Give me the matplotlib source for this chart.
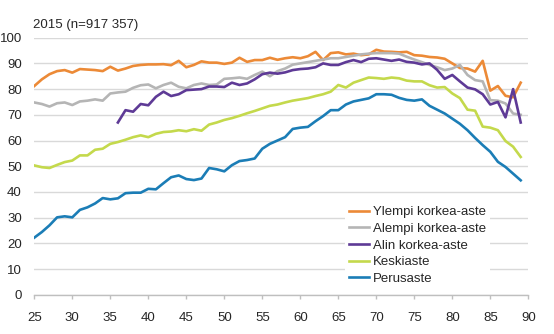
import matplotlib
matplotlib.use("Agg")
import matplotlib.pyplot as plt
import numpy as np

plt.rcParams['font.family'] = ['Liberation Sans', 'DejaVu Sans']

ages = list(range(25, 90))

ylempi = [81.2, 83.8, 85.8, 87.0, 87.4, 86.4, 87.8, 87.6, 87.4, 87.0,
          88.7, 87.2, 88.0, 89.0, 89.4, 89.6, 89.6, 89.7, 89.3, 91.0,
          88.5, 89.4, 90.8, 90.3, 90.3, 89.8, 90.3, 92.2, 90.6, 91.3,
          91.3, 92.2, 91.4, 92.0, 92.4, 92.0, 92.8, 94.5, 91.3, 94.0,
          94.3, 93.5, 93.8, 93.2, 93.5, 95.3, 94.6, 94.5, 94.3, 94.5,
          93.2, 93.0, 92.5, 92.3, 91.8, 90.0, 88.2, 88.0, 86.8, 91.0,
          79.4, 81.2, 77.4, 76.8, 82.5]

alempi = [74.8, 74.2, 73.2, 74.5, 74.8, 73.8, 75.2, 75.5, 76.0, 75.5,
          78.3, 78.7, 79.0, 80.5, 81.5, 81.8, 80.3, 81.6, 82.5, 80.9,
          80.3, 81.6, 82.2, 81.6, 81.8, 84.0, 84.2, 84.5, 84.0, 85.5,
          86.8, 85.0, 87.0, 88.0, 89.5, 90.0, 90.5, 91.0, 91.5, 92.0,
          92.0, 92.5, 93.0, 93.5, 93.8, 94.0, 94.0, 94.0, 93.8, 92.6,
          91.5, 90.5, 89.4, 88.5, 87.4, 88.0, 89.4, 85.5, 83.5, 83.0,
          75.7, 75.5, 74.4, 70.5, 70.0]

alin = [np.nan] * 11 + [
          67.0, 71.8, 71.2, 74.2, 73.7, 77.0, 79.0, 77.3, 78.0,
          79.6, 79.8, 80.0, 81.0, 81.0, 80.8, 82.5, 81.6, 82.2, 83.8,
          85.8, 86.4, 86.0, 86.5, 87.4, 87.8, 88.0, 88.5, 90.0, 89.4,
          89.4, 90.5, 91.3, 90.5, 91.8, 92.0, 91.5, 91.0, 91.5, 90.6,
          90.3, 89.6, 90.0, 87.5, 84.0, 85.5, 83.0, 80.6, 79.9, 78.0,
          74.0, 75.0, 69.0, 80.0, 67.0]

keski = [50.3, 49.6, 49.3, 50.5, 51.6, 52.2, 54.2, 54.2, 56.4, 56.8,
         58.7, 59.4, 60.3, 61.3, 62.0, 61.3, 62.6, 63.3, 63.5, 64.0,
         63.6, 64.4, 63.8, 66.2, 67.0, 68.0, 68.7, 69.6, 70.6, 71.5,
         72.5, 73.5, 74.0, 74.8, 75.5, 76.0, 76.5, 77.3, 78.0, 79.0,
         81.6, 80.6, 82.5, 83.5, 84.5, 84.3, 84.0, 84.5, 84.2, 83.3,
         83.0, 83.0, 81.5, 80.6, 80.8, 78.3, 76.5, 72.0, 71.6, 65.4,
         65.0, 64.0, 59.8, 57.6, 53.6]

perus = [22.2, 24.4, 27.0, 30.1, 30.5, 30.1, 33.0, 34.0, 35.5, 37.6,
         37.1, 37.5, 39.5, 39.7, 39.7, 41.2, 41.0, 43.4, 45.7, 46.4,
         45.0, 44.6, 45.2, 49.3, 48.8, 48.0, 50.4, 52.0, 52.4, 53.0,
         56.8, 58.7, 60.0, 61.3, 64.5, 65.0, 65.3, 67.5, 69.5, 71.8,
         71.8, 74.0, 75.2, 75.8, 76.4, 78.0, 78.0, 77.8, 76.6, 75.8,
         75.5, 76.0, 73.5, 72.0, 70.5, 68.5, 66.5, 64.0, 61.0, 58.2,
         55.6, 51.7, 49.7, 47.1, 44.5]

series = [
    ("Ylempi korkea-aste", ylempi, "#EC8A37"),
    ("Alempi korkea-aste", alempi, "#B5B5B5"),
    ("Alin korkea-aste", alin, "#5E3A96"),
    ("Keskiaste", keski, "#C4D94C"),
    ("Perusaste", perus, "#1B7DB6"),
]

title = "2015 (n=917 357)"
xticks = list(range(25, 95, 5))
yticks = list(range(0, 110, 10))

fig = plt.figure(figsize=(5.54, 3.34), dpi=100)
ax = fig.add_axes([34.3 / 554, (334 - 294.7) / 334, 494 / 554, 257 / 334])

for name, vals, col in series:
    ax.plot(ages, vals, color=col, lw=1.9, label=name, solid_joinstyle='round')

ax.set_xlim(25, 90)
ax.set_ylim(0, 100)
ax.set_xticks(xticks)
ax.set_yticks(yticks)
ax.yaxis.grid(True, color='#D9D9D9', lw=1.0)
ax.set_axisbelow(True)
for s in ['top', 'right', 'left']:
    ax.spines[s].set_visible(False)
ax.spines['bottom'].set_color('#BFBFBF')
ax.spines['bottom'].set_linewidth(1.0)
ax.tick_params(axis='y', length=0, pad=9, labelsize=9.5, labelcolor='#262626')
ax.tick_params(axis='x', length=3.2, width=1.0, color='#BFBFBF', pad=9.5,
               labelsize=9.5, labelcolor='#262626')

fig.text(33 / 554, 1 - 25 / 334, title, fontsize=9.5, color='#262626',
         ha='left', va='center')

leg = ax.legend(loc='upper left', bbox_to_anchor=(345 / 554, 1 - 202 / 334),
                bbox_transform=fig.transFigure, frameon=True, fontsize=9.5,
                handlelength=1.5, handletextpad=0.3, labelspacing=0.34,
                borderpad=0.3, borderaxespad=0)
leg.get_frame().set_facecolor('white')
leg.get_frame().set_edgecolor('none')
leg.get_frame().set_alpha(1.0)
for t in leg.get_texts():
    t.set_color('#262626')

fig.savefig("out.png", dpi=100)
